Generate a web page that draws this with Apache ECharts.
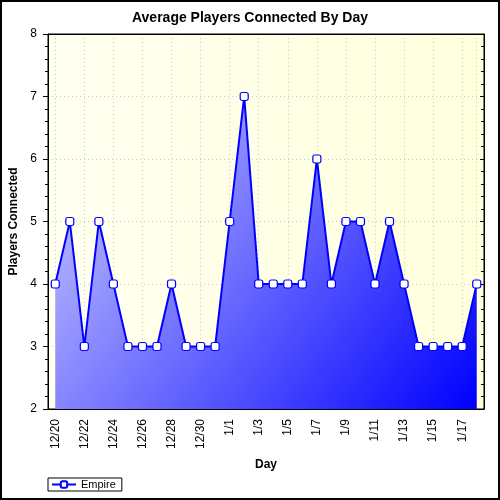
<!DOCTYPE html>
<html lang="en">

<head>
    <meta charset="UTF-8">
    <title>Average Players Connected By Day</title>
    <style>
        html, body { margin: 0; padding: 0; background: #fff; }
        #chartContainer { width: 500px; height: 500px; }
    </style>
    <script src="https://cdn.jsdelivr.net/npm/echarts@6/dist/echarts.min.js"></script>
</head>

<body>
    <div id="chartContainer"></div>
    <script>
        // data
        const days = ['12/20', '12/21', '12/22', '12/23', '12/24', '12/25', '12/26', '12/27',
            '12/28', '12/29', '12/30', '12/31', '1/1', '1/2', '1/3', '1/4', '1/5', '1/6',
            '1/7', '1/8', '1/9', '1/10', '1/11', '1/12', '1/13', '1/14', '1/15', '1/16',
            '1/17', '1/18'];
        const empire = [4, 5, 3, 5, 4, 3, 3, 3, 4, 3, 3, 3, 5, 7, 4, 4, 4, 4, 6, 4, 5, 5, 4, 5, 4, 3, 3, 3, 3, 4];
        const yMin = 2, yMax = 8, yStep = 1;

        const font = 'Liberation Sans, Arial, sans-serif';
        const dotted = { show: true, lineStyle: { color: '#c8c8c8', type: [1, 3], width: 1 } };

        // plot box, and half a category so a second grid lines up with the points
        const plot = { left: 48, top: 34, right: 16, bottom: 91 };
        const half = (500 - plot.left - plot.right) / days.length / 2;

        var chartDom = document.getElementById('chartContainer');
        var myChart = echarts.init(chartDom);

        const option = {
            animation: false,
            backgroundColor: '#fff',
            textStyle: { fontFamily: font },
            title: {
                text: 'Average Players Connected By Day',
                left: 'center',
                top: 11,
                padding: 0,
                textStyle: { fontSize: 14, fontWeight: 'bold', color: '#000', fontFamily: font }
            },
            graphic: [{
                type: 'rect',
                shape: { x: 1, y: 1, width: 498, height: 498 },
                style: { fill: 'none', stroke: '#000', lineWidth: 2 },
                silent: true
            }],
            legend: {
                left: 48,
                top: 478,
                padding: [1, 6, 1, 3],
                borderColor: '#000',
                borderWidth: 1,
                itemWidth: 24,
                itemHeight: 8,
                textStyle: { fontSize: 11, color: '#000', fontFamily: font },
                data: ['Empire']
            },
            grid: [{
                left: plot.left, top: plot.top, right: plot.right, bottom: plot.bottom,
                outerBoundsMode: 'none',
                containLabel: false,
                show: true,
                borderColor: '#000',
                borderWidth: 1,
                backgroundColor: new echarts.graphic.LinearGradient(0, 0, 1, 0, [
                    { offset: 0, color: '#fffff0' },
                    { offset: 1, color: '#ffffdc' }
                ])
            }, {
                // inner grid only for the dotted vertical lines on the data days
                left: plot.left + half, right: plot.right + half, top: plot.top, bottom: plot.bottom,
                outerBoundsMode: 'none',
                containLabel: false,
                show: false
            }],
            xAxis: [{
                type: 'category',
                data: days,
                boundaryGap: true,
                position: 'bottom',
                name: 'Day',
                nameLocation: 'middle',
                nameGap: 50,
                nameTextStyle: { fontSize: 12, fontWeight: 'bold', color: '#000' },
                axisLine: { lineStyle: { color: '#000', width: 1 } },
                axisTick: { alignWithLabel: true, interval: 1, length: 5, lineStyle: { color: '#000' } },
                axisLabel: { interval: 1, rotate: 90, fontSize: 12, color: '#000', margin: 10 },
                splitLine: { show: false }
            }, {
                type: 'category',
                data: days,
                boundaryGap: true,
                position: 'bottom',
                axisLine: { show: false },
                axisTick: { alignWithLabel: true, interval: 0, length: 3, lineStyle: { color: '#000' } },
                axisLabel: { show: false },
                splitLine: { show: false }
            }, {
                type: 'category',
                data: days,
                boundaryGap: true,
                position: 'top',
                axisLine: { lineStyle: { color: '#000' } },
                axisTick: { alignWithLabel: true, interval: 0, inside: true, length: 3, lineStyle: { color: '#000' } },
                axisLabel: { show: false },
                splitLine: { show: false }
            }, {
                type: 'value',
                gridIndex: 1,
                min: 0,
                max: days.length - 1,
                interval: 2,
                axisLine: { show: false },
                axisTick: { show: false },
                axisLabel: { show: false },
                splitLine: dotted
            }],
            yAxis: [{
                type: 'value',
                min: yMin,
                max: yMax,
                interval: yStep,
                position: 'left',
                name: 'Players Connected',
                nameLocation: 'middle',
                nameGap: 26,
                nameTextStyle: { fontSize: 12, fontWeight: 'bold', color: '#000' },
                axisLine: { show: true, lineStyle: { color: '#000' } },
                axisTick: { show: true, length: 5, lineStyle: { color: '#000' } },
                minorTick: { show: true, splitNumber: 5, length: 3, lineStyle: { color: '#000' } },
                axisLabel: { fontSize: 12, color: '#000', margin: 11 },
                splitLine: dotted
            }, {
                type: 'value',
                min: yMin,
                max: yMax,
                interval: yStep,
                position: 'right',
                axisLine: { show: true, lineStyle: { color: '#000' } },
                axisTick: { show: true, inside: true, length: 4, lineStyle: { color: '#000' } },
                minorTick: { show: true, splitNumber: 5, length: 3, lineStyle: { color: '#000' } },
                axisLabel: { show: false },
                splitLine: { show: false }
            }, {
                type: 'value',
                gridIndex: 1,
                min: yMin,
                max: yMax,
                show: false
            }],
            series: [{
                name: 'Empire',
                type: 'line',
                data: empire,
                xAxisIndex: 0,
                yAxisIndex: 0,
                symbol: 'roundRect',
                symbolSize: 8,
                showAllSymbol: true,
                itemStyle: { color: '#fff', borderColor: '#0000ff', borderWidth: 1.2 },
                lineStyle: { color: '#0000ff', width: 2 },
                areaStyle: {
                    opacity: 1,
                    color: new echarts.graphic.LinearGradient(0, 0, 1, 1, [
                        { offset: 0, color: '#d0d0ff' },
                        { offset: 1, color: '#0000ff' }
                    ])
                }
            }]
        };

        myChart.setOption(option);
    </script>
</body>

</html>
